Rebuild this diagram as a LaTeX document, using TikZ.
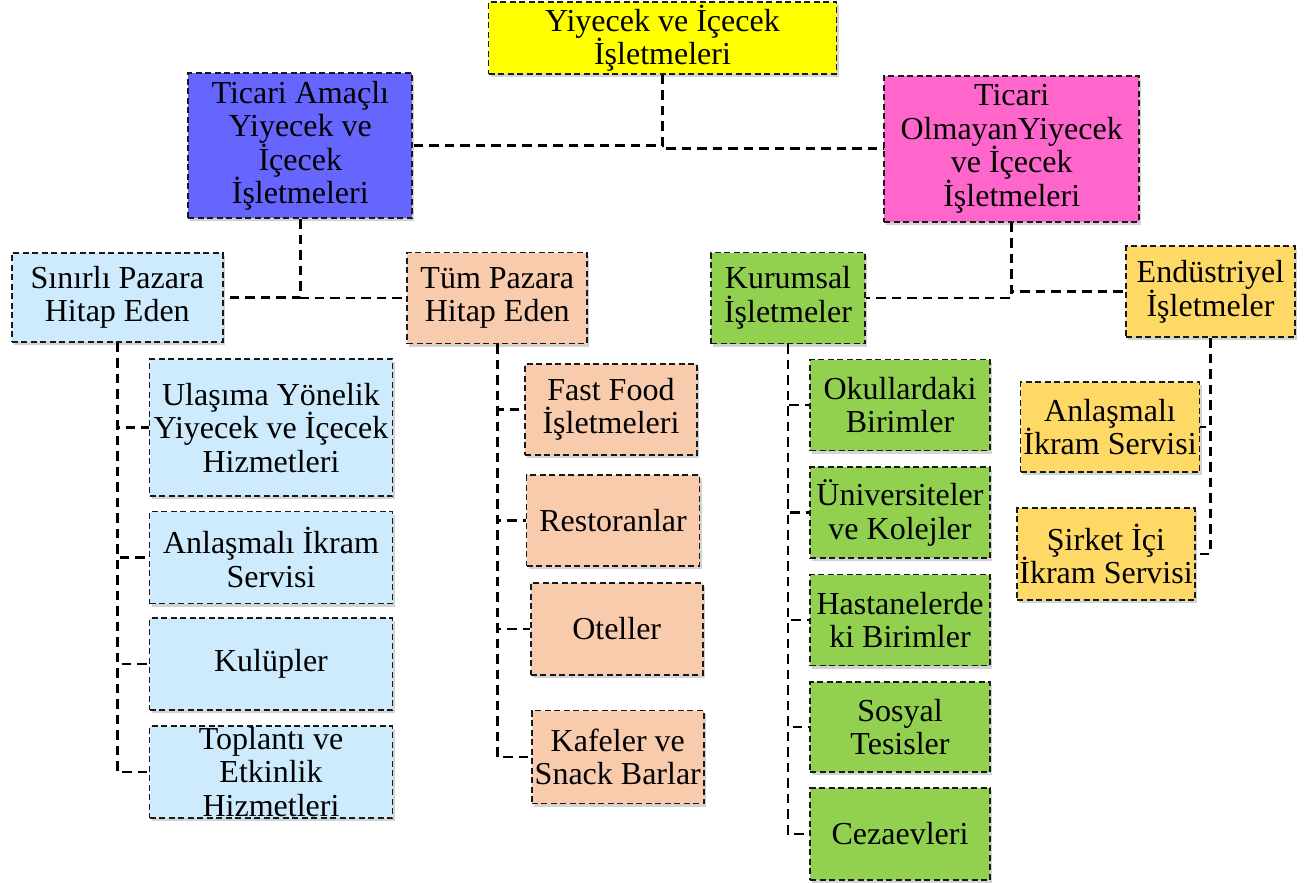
\documentclass[tikz,border=0pt]{standalone}
\usepackage{fontspec}
\setmainfont{Liberation Serif}
\usetikzlibrary{shadows}

\definecolor{rootyellow}{HTML}{FFFF00}
\definecolor{ticariblue}{HTML}{6666FF}
\definecolor{olmayanpink}{HTML}{FF66CC}
\definecolor{sinirliblue}{HTML}{CDEBFD}
\definecolor{tumpeach}{HTML}{F8CBAD}
\definecolor{kurumgreen}{HTML}{92D050}
\definecolor{endusgold}{HTML}{FFD966}

\tikzset{
  box/.style={draw=black!90, line width=1.8pt, dash pattern=on 6pt off 3.5pt,
    align=center, inner sep=0pt, font=\fontsize{32}{33.5}\selectfont,
    drop shadow={shadow xshift=2pt, shadow yshift=-3pt, opacity=0.35}},
  sz/.style 2 args={minimum width=#1pt, minimum height=#2pt},
  link/.style={line width=2.8pt, dash pattern=on 9.5pt off 6pt},
}

\begin{document}
\begin{tikzpicture}[x=1pt, y=-1pt]
    \useasboundingbox (0,0) rectangle (1304,883);

    % Top level
    \node[box, fill=rootyellow, sz={348}{72}] (root) at (662.5,38) {Yiyecek ve İçecek\\İşletmeleri};
    \node[box, fill=ticariblue, sz={224}{145}] (ticari) at (300.3,145.8) {Ticari Amaçlı\\Yiyecek ve\\İçecek\\İşletmeleri};
    \node[box, fill=olmayanpink, sz={255}{146}] (olmayan) at (1011.7,148.7) {Ticari\\OlmayanYiyecek\\ve İçecek\\İşletmeleri};

    % Second level
    \node[box, fill=sinirliblue, sz={211}{89}] (sinirli) at (117.3,297.5) {Sınırlı Pazara\\Hitap Eden};
    \node[box, fill=tumpeach, sz={180}{91}] (tum) at (497.3,298) {Tüm Pazara\\Hitap Eden};
    \node[box, fill=kurumgreen, sz={154}{91}] (kurumsal) at (788,298) {Kurumsal\\İşletmeler};
    \node[box, fill=endusgold, sz={169}{91}] (endus) at (1210.5,291.7) {Endüstriyel\\İşletmeler};

    % Sinirli pazar
    \node[box, fill=sinirliblue, sz={243}{137}] (ulasim) at (271,427.7) {Ulaşıma Yönelik\\Yiyecek ve İçecek\\Hizmetleri};
    \node[box, fill=sinirliblue, sz={243}{92}] (anlasmaA) at (271,557.5) {Anlaşmalı İkram\\Servisi};
    \node[box, fill=sinirliblue, sz={243}{92}] (kulup) at (271,664) {Kulüpler};
    \node[box, fill=sinirliblue, sz={243}{92},
      label={[align=center, font=\fontsize{32}{33.5}\selectfont]center:Toplantı ve\\Etkinlik\\Hizmetleri}] (toplanti) at (271,772) {};

    % Tum pazar
    \node[box, fill=tumpeach, sz={172}{91}] (fastfood) at (611,409.5) {Fast Food\\İşletmeleri};
    \node[box, fill=tumpeach, sz={173}{91}] (restoran) at (613,520.5) {Restoranlar};
    \node[box, fill=tumpeach, sz={172}{92}] (otel) at (616.7,629) {Oteller};
    \node[box, fill=tumpeach, sz={172}{93}] (kafe) at (617.8,757) {Kafeler ve\\Snack Barlar};

    % Kurumsal
    \node[box, fill=kurumgreen, sz={180}{91}] (okul) at (900,405) {Okullardaki\\Birimler};
    \node[box, fill=kurumgreen, sz={180}{91}] (univ) at (900,512.8) {Üniversiteler\\ve Kolejler};
    \node[box, fill=kurumgreen, sz={180}{91}] (hastane) at (900,620) {Hastanelerde\\ki Birimler};
    \node[box, fill=kurumgreen, sz={180}{90}] (sosyal) at (900,727) {Sosyal\\Tesisler};
    \node[box, fill=kurumgreen, sz={180}{92}] (ceza) at (900,834) {Cezaevleri};

    % Endustriyel
    \node[box, fill=endusgold, sz={179}{90}] (anlasmaB) at (1110,427) {Anlaşmalı\\İkram Servisi};
    \node[box, fill=endusgold, sz={178}{92}] (sirket) at (1106,554) {Şirket İçi\\İkram Servisi};

    % Links
    \draw[link] (root.south) |- (ticari.east);
    \draw[link] (root.south) |- (olmayan.west);
    \draw[link] (ticari.south) |- (sinirli.east);
    \draw[link] (ticari.south) |- (tum.west);
    \draw[link] (olmayan.south) |- (kurumsal.east);
    \draw[link] (olmayan.south) |- (endus.west);
    \foreach \c in {ulasim, anlasmaA, kulup, toplanti}
        \draw[link] (sinirli.south) |- (\c.west);
    \foreach \c in {fastfood, restoran, otel, kafe}
        \draw[link] (tum.south) |- (\c.west);
    \foreach \c in {okul, univ, hastane, sosyal, ceza}
        \draw[link] (kurumsal.south) |- (\c.west);
    \foreach \c in {anlasmaB, sirket}
        \draw[link] (endus.south) |- (\c.east);
\end{tikzpicture}
\end{document}
